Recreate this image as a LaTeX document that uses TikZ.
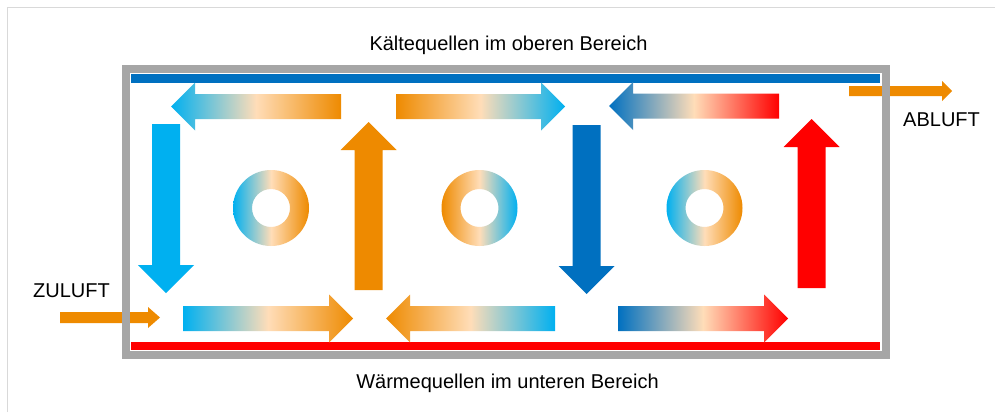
\documentclass[tikz,border=0pt]{standalone}
\usepackage{fontspec}
\setmainfont{Liberation Sans}
\definecolor{cyanA}{HTML}{00B0F0}
\definecolor{peachA}{HTML}{FFDDB8}
\definecolor{orangeA}{HTML}{EE8A00}
\definecolor{blueA}{HTML}{0070C0}
\definecolor{redA}{HTML}{FF0000}
\definecolor{grayA}{HTML}{A6A6A6}
\definecolor{lightA}{HTML}{D9D9D9}
\pgfdeclarehorizontalshading{cbo}{100bp}{color(0bp)=(cyanA); color(25bp)=(cyanA); color(50bp)=(peachA); color(75bp)=(orangeA); color(100bp)=(orangeA)}
\pgfdeclarehorizontalshading{obc}{100bp}{color(0bp)=(orangeA); color(25bp)=(orangeA); color(50bp)=(peachA); color(75bp)=(cyanA); color(100bp)=(cyanA)}
\pgfdeclarehorizontalshading{bpr}{100bp}{color(0bp)=(blueA); color(25bp)=(blueA); color(50bp)=(peachA); color(75bp)=(redA); color(100bp)=(redA)}
% #1 tail x, #2 tip x, #3 centre y, #4 options
\newcommand\ArrR[4]{\path[#4] (#1,#3-12.5) -- (#2-24,#3-12.5) -- (#2-24,#3-24) -- (#2,#3) -- (#2-24,#3+24) -- (#2-24,#3+12.5) -- (#1,#3+12.5) -- cycle;}
\newcommand\ArrL[4]{\path[#4] (#1,#3-12.5) -- (#2+24,#3-12.5) -- (#2+24,#3-24) -- (#2,#3) -- (#2+24,#3+24) -- (#2+24,#3+12.5) -- (#1,#3+12.5) -- cycle;}
% #1 tail y, #2 tip y, #3 centre x, #4 options
\newcommand\ArrD[4]{\path[#4] (#3-14,#1) -- (#3-14,#2-28) -- (#3-28,#2-28) -- (#3,#2) -- (#3+28,#2-28) -- (#3+14,#2-28) -- (#3+14,#1) -- cycle;}
\newcommand\ArrU[4]{\path[#4] (#3-14,#1) -- (#3-14,#2+28) -- (#3-28,#2+28) -- (#3,#2) -- (#3+28,#2+28) -- (#3+14,#2+28) -- (#3+14,#1) -- cycle;}
\newcommand\Ring[3]{\path[shade, shading=#3, even odd rule] (#1,#2) circle[radius=38] (#1,#2) circle[radius=19];}
\begin{document}
\begin{tikzpicture}[x=1pt,y=-1pt,
  lbl/.style={inner sep=0pt, font=\fontsize{20}{24}\selectfont},
  flowO/.style={fill=orangeA}]
\useasboundingbox (0,0) rectangle (995,412);
\fill[white] (0,0) rectangle (995,412);
% outer thin frame
\draw[lightA, line width=1.5pt] (7.5,412) -- (7.5,7.5) -- (995,7.5);
% inlet / outlet arrows (under the frame)
\path[flowO] (60,312) -- (148,312) -- (148,307) -- (160,317.5) -- (148,328) -- (148,323) -- (60,323) -- cycle;
\path[flowO] (849,86) -- (942,86) -- (942,81) -- (952,91) -- (942,101) -- (942,96) -- (849,96) -- cycle;
% housing
\draw[grayA, line width=8.5pt] (126,69.2) rectangle (886,354.8);
\fill[blueA] (130.5,73.5) rectangle (880,83);
\fill[redA] (131,341.5) rectangle (880,350);
% horizontal flows
\ArrL{341}{171}{106.5}{shade, shading=cbo}
\ArrR{396}{565}{106.5}{shade, shading=obc}
\ArrL{779}{609}{106}{shade, shading=bpr}
\ArrR{183}{353}{318.5}{shade, shading=cbo}
\ArrL{555}{386}{318.5}{shade, shading=obc}
\ArrR{618}{788}{318.5}{shade, shading=bpr}
% vertical flows
\ArrD{124}{293}{166}{fill=cyanA}
\ArrU{290}{122}{368.5}{fill=orangeA}
\ArrD{125}{294}{586.5}{fill=blueA}
\ArrU{288}{119}{811.5}{fill=redA}
% rings
\Ring{271}{208}{cbo}
\Ring{479.5}{208}{obc}
\Ring{704.5}{208}{cbo}
% labels
\node[lbl, anchor=base] (top) at (508.5,50.5) {Kältequellen im oberen Bereich};
\node[lbl, anchor=base] (bot) at (507.5,388) {Wärmequellen im unteren Bereich};
\node[lbl, anchor=base west] (zu) at (33,297) {ZULUFT};
\node[lbl, anchor=base west] (ab) at (903,126) {ABLUFT};
\end{tikzpicture}
\end{document}
